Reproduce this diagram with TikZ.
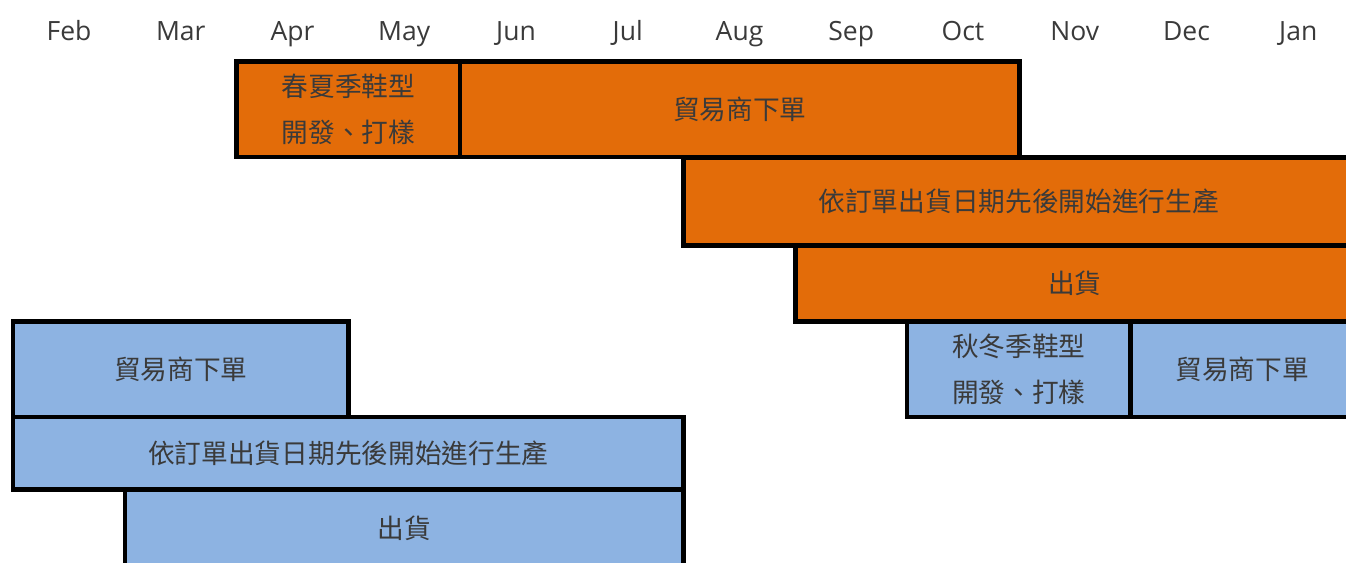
\documentclass[tikz,border=0pt]{standalone}
\usepackage{fontspec}
\setmainfont{Open Sans}
\newfontfamily\cjk{Noto Sans CJK TC}
\definecolor{gorange}{HTML}{E36C09}
\definecolor{gblue}{HTML}{8DB3E2}
\definecolor{gtext}{HTML}{3A3A3A}
\tikzset{
  month/.style={text=gtext, font=\fontsize{26.5}{30}\selectfont, inner sep=0pt, anchor=base},
  bar/.style={draw=black, line width=4.7pt, line join=miter, inner sep=0pt, outer sep=0pt,
              anchor=north west, text=gtext, align=center,
              font=\cjk\fontsize{26.7}{46.5}\selectfont},
  obar/.style={bar, fill=gorange},
  bbar/.style={bar, fill=gblue},
}
\begin{document}
\begin{tikzpicture}[x=1pt, y=-1pt]
\useasboundingbox (0,0) rectangle (1346,562);
\clip (0,0) rectangle (1346,562);
% month labels
\foreach \m [count=\k from 0] in {Feb,Mar,Apr,May,Jun,Jul,Aug,Sep,Oct,Nov,Dec,Jan}
  \node[month] (m\k) at ({69+\k*111.75}, 40.5) {\m};
% orange (spring/summer)
\node[obar, minimum width=223.5, minimum height=95.5] (o1) at (236.6, 61.5) {春夏季鞋型\\開發、打樣};
\node[obar, minimum width=559.4, minimum height=95.5] (o2) at (460.1, 61.5) {貿易商下單};
\node[obar, minimum width=670.4, minimum height=88] (o3) at (683.6, 157.5) {依訂單出貨日期先後開始進行生產};
\node[obar, minimum width=558.6, minimum height=76] (o4) at (795.4, 245.5) {出貨};
% blue (autumn/winter)
\node[bbar, minimum width=223.5, minimum height=95.5] (b1) at (907.1, 321.5) {秋冬季鞋型\\開發、打樣};
\node[bbar, minimum width=223.4, minimum height=95.5] (b2) at (1130.6, 321.5) {貿易商下單};
\node[bbar, minimum width=335.3, minimum height=95.5] (b3) at (13.1, 321.5) {貿易商下單};
\node[bbar, minimum width=670.5, minimum height=72.5] (b4) at (13.1, 417) {依訂單出貨日期先後開始進行生產};
\node[bbar, minimum width=558.6, minimum height=78] (b5) at (125, 489.5) {出貨};
\end{tikzpicture}
\end{document}
